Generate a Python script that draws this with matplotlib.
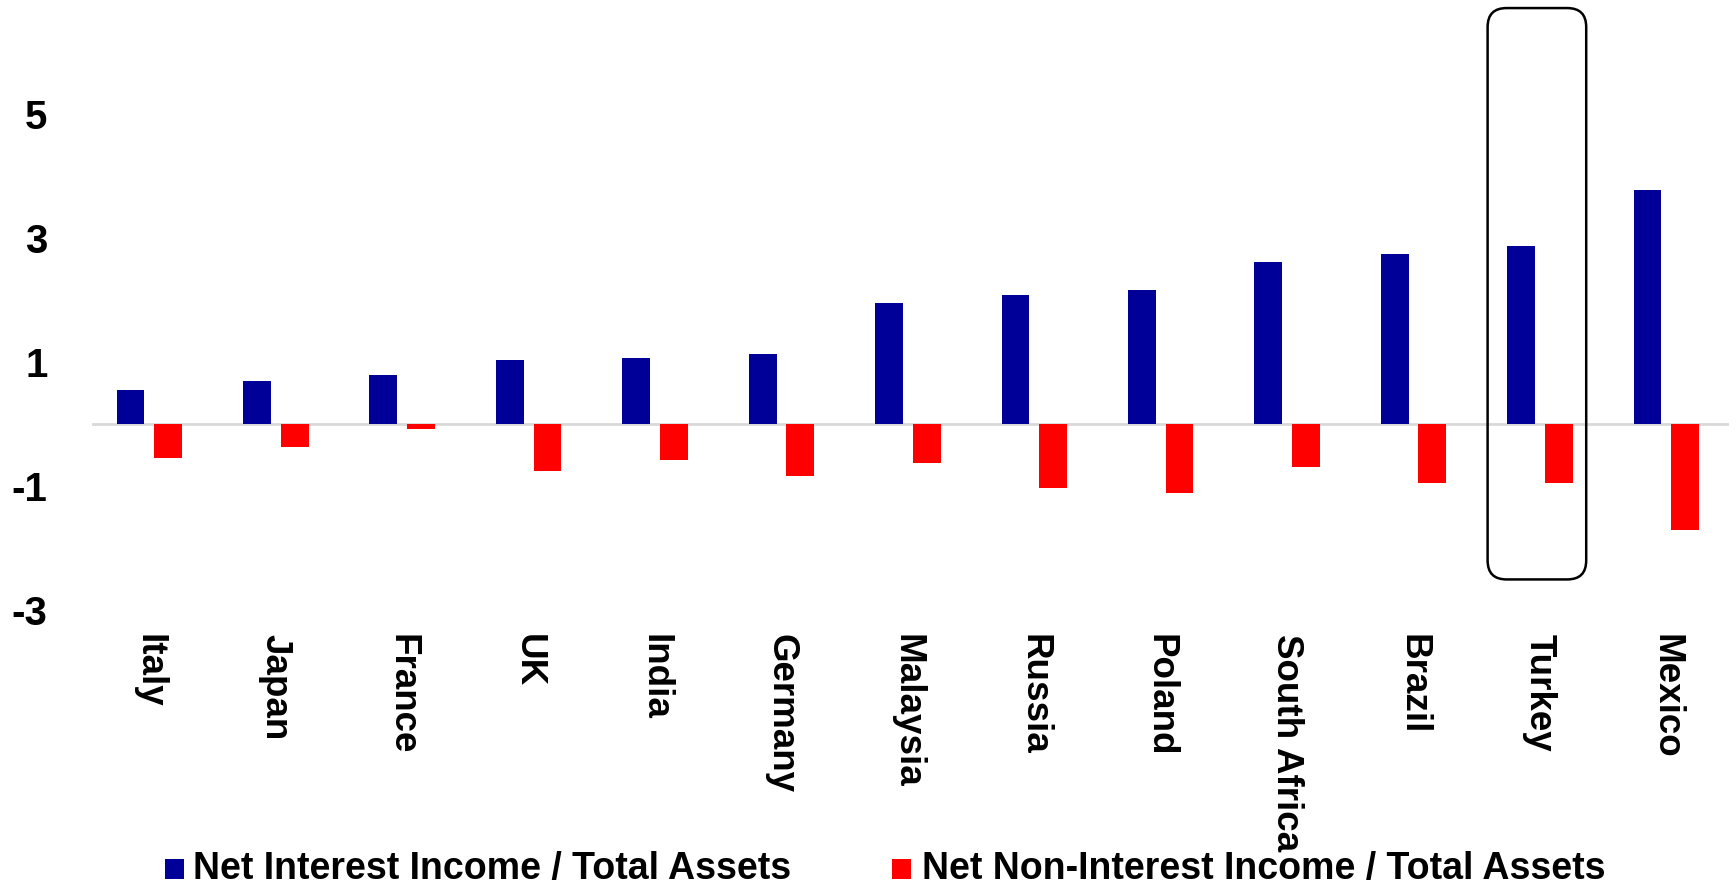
import numpy as np
import matplotlib.pyplot as plt
from matplotlib.patches import FancyBboxPatch, Rectangle

# data
countries = ["Italy", "Japan", "France", "UK", "India", "Germany", "Malaysia",
             "Russia", "Poland", "South Africa", "Brazil", "Turkey", "Mexico"]
net_interest = [0.55, 0.70, 0.79, 1.04, 1.07, 1.14, 1.96, 2.09, 2.16, 2.61, 2.75, 2.88, 3.77]
net_non_interest = [-0.54, -0.36, -0.07, -0.75, -0.57, -0.84, -0.63, -1.02, -1.11, -0.68, -0.95, -0.94, -1.71]
series_names = ["Net Interest Income / Total Assets", "Net Non-Interest Income / Total Assets"]
colors = ["#000099", "#ff0000"]
yticks = [5, 3, 1, -1, -3]
highlight = "Turkey"

plt.rcParams["font.family"] = ["Liberation Sans", "DejaVu Sans"]

fig = plt.figure(figsize=(17.36, 8.86), dpi=100)
ax = fig.add_axes([0.053, 0.311, 0.943, 0.689])

x = np.arange(len(countries))
w = 0.22
ax.bar(x - 0.145, net_interest, w, color=colors[0])
ax.bar(x + 0.153, net_non_interest, w, color=colors[1])

ax.axhline(0, color="#d9d9d9", lw=2, zorder=0)

ax.set_xlim(-0.45, 12.5)
ax.set_ylim(-3, 6.84)
ax.set_yticks(yticks)
ax.set_yticklabels([str(t) for t in yticks], fontsize=29, fontweight="bold")
ax.set_xticks(x)
ax.set_xticklabels(countries, rotation=-90, fontsize=26.5, fontweight="bold", va="top", ha="center")
ax.tick_params(length=0, axis="both")
ax.tick_params(axis="x", pad=17)
ax.tick_params(axis="y", pad=32)
for s in ax.spines.values():
    s.set_visible(False)

# rounded box around the highlighted country
i = countries.index(highlight)
box = FancyBboxPatch((i - 0.41, -2.5), 0.78, 9.21,
                     boxstyle="round,pad=0,rounding_size=0.15", mutation_aspect=2.04,
                     fill=False, ec="black", lw=1.8, clip_on=False, zorder=3)
ax.add_patch(box)

# legend along the bottom, laid out by hand
for mx, tx, name, c in zip([0.0950, 0.5138], [0.1112, 0.5311], series_names, colors):
    fig.add_artist(Rectangle((mx, 0.0079), 0.0109, 0.0226, transform=fig.transFigure,
                             color=c, lw=0))
    fig.text(tx, 0.0079, name, fontsize=27, fontweight="bold", va="baseline", ha="left")

fig.savefig("out.png", dpi=100)
